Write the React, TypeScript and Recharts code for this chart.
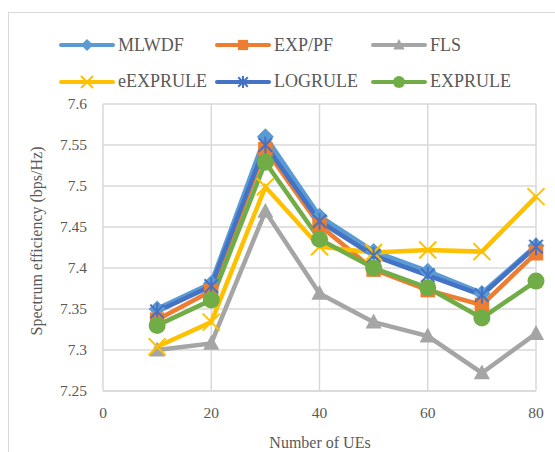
import React from "react";
import { LineChart, Line, XAxis, YAxis, CartesianGrid } from "recharts";

const ues = [10, 20, 30, 40, 50, 60, 70, 80];
const mlwdf = [7.35, 7.381, 7.56, 7.463, 7.42, 7.396, 7.369, 7.427];
const expPf = [7.337, 7.372, 7.545, 7.452, 7.398, 7.373, 7.355, 7.418];
const fls = [7.3, 7.308, 7.469, 7.369, 7.334, 7.317, 7.272, 7.32];
const eExpRule = [7.304, 7.334, 7.499, 7.426, 7.419, 7.422, 7.42, 7.487];
const logRule = [7.347, 7.378, 7.55, 7.457, 7.415, 7.391, 7.367, 7.426];
const expRule = [7.33, 7.361, 7.529, 7.435, 7.4, 7.376, 7.339, 7.384];

const xTicks = [0, 20, 40, 60, 80];
const yTicks = [7.25, 7.3, 7.35, 7.4, 7.45, 7.5, 7.55, 7.6];

type Shape = "diamond" | "square" | "triangle" | "x" | "star" | "circle";

const series: { key: string; name: string; color: string; shape: Shape; values: number[] }[] = [
  { key: "mlwdf", name: "MLWDF", color: "#5B9BD5", shape: "diamond", values: mlwdf },
  { key: "expPf", name: "EXP/PF", color: "#ED7D31", shape: "square", values: expPf },
  { key: "fls", name: "FLS", color: "#A5A5A5", shape: "triangle", values: fls },
  { key: "eExpRule", name: "eEXPRULE", color: "#FFC000", shape: "x", values: eExpRule },
  { key: "logRule", name: "LOGRULE", color: "#4472C4", shape: "star", values: logRule },
  { key: "expRule", name: "EXPRULE", color: "#70AD47", shape: "circle", values: expRule },
];

const data = ues.map((u, i) => {
  const row: Record<string, number> = { ues: u };
  series.forEach((s) => (row[s.key] = s.values[i]));
  return row;
});

const FONT = "'Liberation Serif', 'Times New Roman', serif";
const TEXT = "#595959";
const GRID = "#d9d9d9";

function Marker({ shape, cx, cy, color, r }: { shape: Shape; cx: number; cy: number; color: string; r: number }) {
  switch (shape) {
    case "diamond":
      return <polygon points={`${cx},${cy - r} ${cx + r},${cy} ${cx},${cy + r} ${cx - r},${cy}`} fill={color} />;
    case "square":
      return <rect x={cx - r * 0.85} y={cy - r * 0.85} width={r * 1.7} height={r * 1.7} fill={color} />;
    case "triangle":
      return <polygon points={`${cx},${cy - r} ${cx + r * 0.95},${cy + r * 0.75} ${cx - r * 0.95},${cy + r * 0.75}`} fill={color} />;
    case "x":
      return (
        <g stroke={color} strokeWidth={2}>
          <line x1={cx - r} y1={cy - r} x2={cx + r} y2={cy + r} />
          <line x1={cx - r} y1={cy + r} x2={cx + r} y2={cy - r} />
        </g>
      );
    case "star":
      return (
        <g stroke={color} strokeWidth={2}>
          <line x1={cx - r * 0.8} y1={cy - r * 0.8} x2={cx + r * 0.8} y2={cy + r * 0.8} />
          <line x1={cx - r * 0.8} y1={cy + r * 0.8} x2={cx + r * 0.8} y2={cy - r * 0.8} />
          <line x1={cx} y1={cy - r} x2={cx} y2={cy + r} />
        </g>
      );
    default:
      return <circle cx={cx} cy={cy} r={r} fill={color} />;
  }
}

function YTick({ x, y, payload }: any) {
  const label = String(Number(payload.value.toFixed(2)));
  return (
    <text x={x} y={y + 5} textAnchor="end" fill={TEXT} fontFamily={FONT} fontSize={15.5}>
      {label}
    </text>
  );
}

function XTick({ x, y, payload }: any) {
  return (
    <text x={x} y={y + 19} textAnchor="middle" fill={TEXT} fontFamily={FONT} fontSize={15.5}>
      {payload.value}
    </text>
  );
}

const legendCols = [59, 215, 371];
const legendRows = [45, 81.5];

function LegendItem({ s, left, cy }: { s: (typeof series)[number]; left: number; cy: number }) {
  return (
    <>
      <svg style={{ position: "absolute", left, top: cy - 10 }} width={56} height={20}>
        <line x1={2} y1={10} x2={54} y2={10} stroke={s.color} strokeWidth={4} strokeLinecap="round" />
        <Marker shape={s.shape} cx={28} cy={10} color={s.color} r={6} />
      </svg>
      <span style={{
        position: "absolute", left: left + 59, top: cy - 9.2, lineHeight: "18px", fontSize: 18,
        fontFamily: FONT, color: TEXT, whiteSpace: "nowrap",
      }}>{s.name}</span>
    </>
  );
}

export default function App() {
  return (
    <div style={{ position: "absolute", left: 0, top: 0, width: 555, height: 452, overflow: "hidden", background: "#fff" }}>
      <div style={{ position: "absolute", left: 8, top: 12, width: 600, height: 500, border: `1px solid ${GRID}` }} />

      {series.map((s, i) => (
        <LegendItem key={s.key} s={s} left={legendCols[i % 3]} cy={legendRows[Math.floor(i / 3)]} />
      ))}

      <div style={{ position: "absolute", left: 0, top: 0 }}>
        <LineChart width={555} height={452} data={data} margin={{ top: 104, right: 19, bottom: 31, left: 43 }}>
          <CartesianGrid stroke={GRID} strokeWidth={1.5} />
          <XAxis dataKey="ues" type="number" domain={[0, 80]} ticks={xTicks} height={30}
            axisLine={{ stroke: GRID, strokeWidth: 1.5 }} tickLine={false} tickSize={8} tickMargin={0}
            tick={<XTick />} interval={0} />
          <YAxis type="number" domain={[7.25, 7.6]} ticks={yTicks} width={60} axisLine={false}
            tickLine={false} tickSize={14} tickMargin={2} tick={<YTick />} interval={0} />
          {series.map((s) => (
            <Line key={s.key} dataKey={s.key} name={s.name} type="linear" stroke={s.color}
              strokeWidth={s.key === "mlwdf" ? 5 : 4.5} isAnimationActive={false}
              dot={(p: any) => <Marker key={`${s.key}-${p.index}`} shape={s.shape} cx={p.cx} cy={p.cy} color={s.color} r={8.5} />}
              activeDot={false} />
          ))}
        </LineChart>
      </div>

      <div style={{ position: "absolute", left: 220, top: 343, width: 200, height: 200, display: "flex", alignItems: "center", justifyContent: "center" }}>
        <span style={{ fontFamily: FONT, fontSize: 16, color: TEXT, whiteSpace: "nowrap", lineHeight: "16px" }}>
          Number of UEs
        </span>
      </div>
      <div style={{ position: "absolute", left: -63, top: 141, width: 200, height: 200, display: "flex", alignItems: "center", justifyContent: "center" }}>
        <span style={{ fontFamily: FONT, fontSize: 16, color: TEXT, whiteSpace: "nowrap", lineHeight: "16px", transform: "rotate(-90deg)" }}>
          Spectrum efficiency (bps/Hz)
        </span>
      </div>
    </div>
  );
}
